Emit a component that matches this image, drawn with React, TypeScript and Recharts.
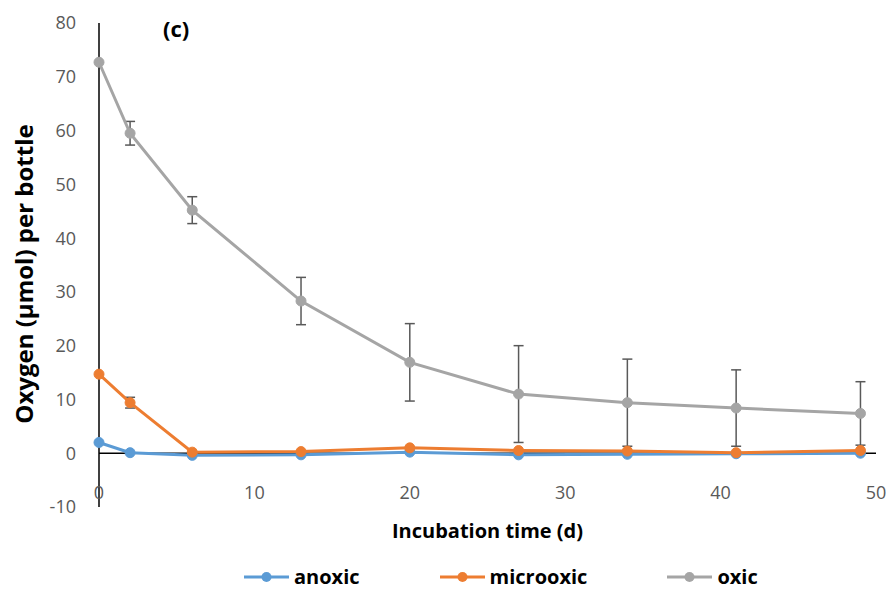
import React from 'react';
import {
  LineChart,
  Line,
  XAxis,
  YAxis,
  ErrorBar,
  ReferenceLine,
  Label,
} from 'recharts';

const days = [0, 2, 6, 13, 20, 27, 34, 41, 49];
const anoxic = [2.0, 0.1, -0.4, -0.3, 0.2, -0.3, -0.2, -0.1, 0.0];
const microoxic = [14.7, 9.4, 0.2, 0.3, 1.0, 0.5, 0.4, 0.1, 0.5];
const microoxicErr = [0, 1.0, 0, 0, 0, 0, 0, 0, 0];
const oxic = [72.7, 59.5, 45.2, 28.3, 16.9, 11.0, 9.4, 8.4, 7.4];
const oxicErr = [0, 2.2, 2.5, 4.4, 7.2, 9.0, 8.1, 7.1, 5.9];
const xTicks = [0, 10, 20, 30, 40, 50];
const yTicks = [-10, 0, 10, 20, 30, 40, 50, 60, 70, 80];

const data = days.map((d, i) => ({
  day: d,
  anoxic: anoxic[i],
  microoxic: microoxic[i],
  microoxicErr: microoxicErr[i],
  oxic: oxic[i],
  oxicErr: oxicErr[i],
}));

const FONT = '"Open Sans", sans-serif';
const BLUE = '#5B9BD5';
const ORANGE = '#ED7D31';
const GREY = '#A5A5A5';

const XTick = ({ x, y, payload }: any) => (
  <text x={x} y={y - 10} textAnchor="middle" fill="#595959" fontSize={18} fontFamily={FONT}>
    {payload.value}
  </text>
);

const legendItems = [
  { name: 'anoxic', color: BLUE },
  { name: 'microoxic', color: ORANGE },
  { name: 'oxic', color: GREY },
];

export default function App() {
  return (
    <div style={{ position: 'absolute', left: 0, top: 0, width: 894, height: 599, background: '#fff', fontFamily: FONT }}>
      <LineChart width={894} height={599} data={data} margin={{ top: 23, right: 18, left: 0, bottom: 0 }}>
        <XAxis
          dataKey="day"
          type="number"
          domain={[0, 50]}
          ticks={xTicks}
          axisLine={false}
          tickLine={false}
          tickSize={0}
          height={92}
          tick={<XTick />}
        >
          <Label
            value="Incubation time (d)"
            position="insideTop"
            offset={17}
            style={{ fontSize: 20, fontWeight: 700, fill: '#000', fontFamily: FONT }}
          />
        </XAxis>
        <YAxis
          type="number"
          domain={[-10, 80]}
          ticks={yTicks}
          width={99}
          axisLine={{ stroke: '#000', strokeWidth: 1.5 }}
          tickLine={false}
          tickSize={0}
          tickMargin={23}
          tick={{ fill: '#595959', fontSize: 18, fontFamily: FONT }}
          interval={0}
        >
          <Label
            content={() => (
              <text
                x={23}
                y={274}
                transform="rotate(-90 23 274)"
                textAnchor="middle"
                dominantBaseline="central"
                fontSize={24}
                fontWeight={700}
                fill="#000"
                fontFamily={FONT}
              >
                Oxygen (µmol) per bottle
              </text>
            )}
          />
        </YAxis>
        <ReferenceLine y={0} stroke="#000" strokeWidth={1.5} />
        <Line
          dataKey="anoxic"
          stroke={BLUE}
          strokeWidth={3}
          dot={{ r: 5, fill: BLUE, stroke: BLUE, strokeWidth: 1 }}
          isAnimationActive={false}
        />
        <Line
          dataKey="microoxic"
          stroke={ORANGE}
          strokeWidth={3}
          dot={{ r: 5, fill: ORANGE, stroke: ORANGE, strokeWidth: 1 }}
          isAnimationActive={false}
        >
          <ErrorBar dataKey="microoxicErr" direction="y" width={5} stroke="#595959" strokeWidth={1.5} />
        </Line>
        <Line
          dataKey="oxic"
          stroke={GREY}
          strokeWidth={3}
          dot={{ r: 5, fill: GREY, stroke: GREY, strokeWidth: 1 }}
          isAnimationActive={false}
        >
          <ErrorBar dataKey="oxicErr" direction="y" width={5} stroke="#595959" strokeWidth={1.5} />
        </Line>
      </LineChart>
      <div style={{ position: 'absolute', left: 163, top: 13, fontSize: 22, fontWeight: 700, color: '#000' }}>(c)</div>
      <div style={{ position: 'absolute', left: 244, top: 563, display: 'flex', alignItems: 'center', fontSize: 20, fontWeight: 700, color: '#000' }}>
        {legendItems.map((it) => (
          <div key={it.name} style={{ display: 'flex', alignItems: 'center', marginRight: 80 }}>
            <svg width={45} height={14} style={{ marginRight: 5 }}>
              <line x1={0} y1={7} x2={45} y2={7} stroke={it.color} strokeWidth={3} />
              <circle cx={22.5} cy={7} r={5} fill={it.color} />
            </svg>
            <span>{it.name}</span>
          </div>
        ))}
      </div>
    </div>
  );
}
